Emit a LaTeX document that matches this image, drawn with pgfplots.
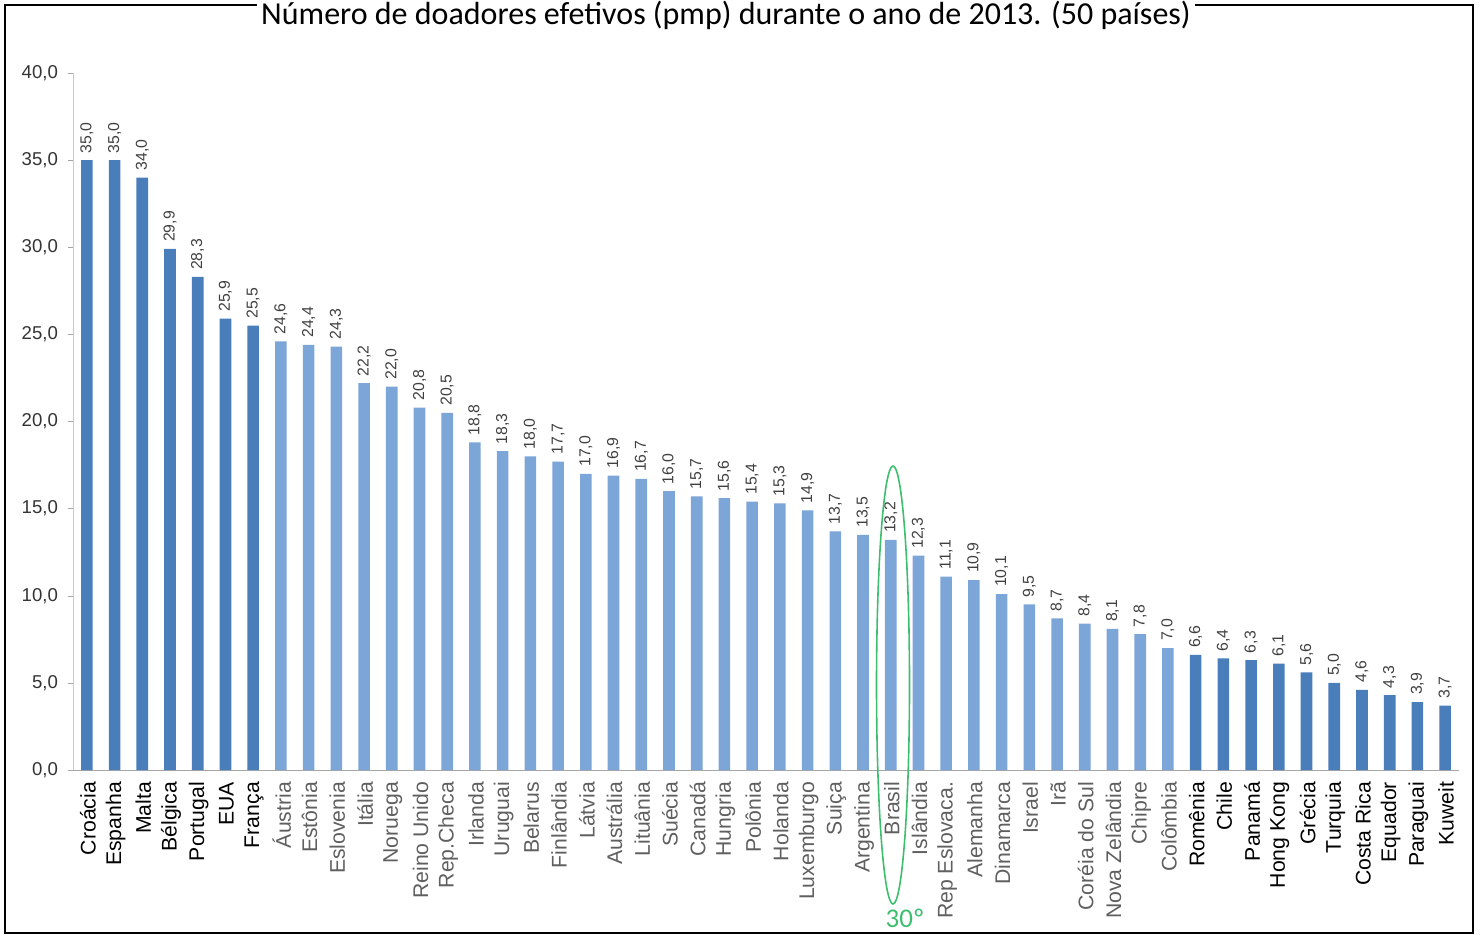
\documentclass[border=0pt]{standalone}
\usepackage{pgfplots}
\pgfplotsset{compat=1.18}
\usepackage{fontspec}
\setmainfont{Liberation Sans}
\newfontfamily\calibri{Carlito}
\definecolor{barDark}{HTML}{4A7EBB}
\definecolor{barLight}{HTML}{7CA5D8}
\definecolor{lblGray}{HTML}{5F5F5F}
\definecolor{axGray}{HTML}{A6A6A6}
\definecolor{ringGreen}{HTML}{3DBE6E}

\begin{document}
\begin{tikzpicture}
\begin{axis}[
  scale only axis, width=693pt, height=348.5pt,
  ybar, bar shift=0pt, bar width=5.8pt,
  xmin=-0.5, xmax=49.5, ymin=0, ymax=40,
  axis lines*=left,
  x axis line style={draw=axGray},
  y axis line style={draw=axGray!60},
  tick align=outside,
  ytick={0,5,...,40},
  major tick length=2.5pt,
  ytick style={draw=axGray},
  yticklabel style={/pgf/number format/.cd, fixed, fixed zerofill, precision=1, use comma, assume math mode=true,
    /tikz/.cd, font=\fontsize{9.3}{10}\selectfont, text=black!80, xshift=-1.5pt},
  xtick={0,...,49},
  xtick style={draw=none},
  minor xtick={-0.5,0.5,...,49.5},
  minor tick length=3pt,
  minor tick style={draw=axGray},
  xticklabel style={rotate=90, anchor=east, font=\fontsize{10.6}{12}\selectfont, text=black, yshift=-0.5pt},
  xticklabels={Croácia, Espanha, Malta, Bélgica, Portugal, EUA, França,
    \textcolor{lblGray}{Áustria}, \textcolor{lblGray}{Estônia}, \textcolor{lblGray}{Eslovenia},
    \textcolor{lblGray}{Itália}, \textcolor{lblGray}{Noruega}, \textcolor{lblGray}{Reino Unido},
    \textcolor{lblGray}{Rep.Checa}, \textcolor{lblGray}{Irlanda}, \textcolor{lblGray}{Uruguai},
    \textcolor{lblGray}{Belarus}, \textcolor{lblGray}{Finlândia}, \textcolor{lblGray}{Látvia},
    \textcolor{lblGray}{Austrália}, \textcolor{lblGray}{Lituânia}, \textcolor{lblGray}{Suécia},
    \textcolor{lblGray}{Canadá}, \textcolor{lblGray}{Hungria}, \textcolor{lblGray}{Polônia},
    \textcolor{lblGray}{Holanda}, \textcolor{lblGray}{Luxemburgo}, \textcolor{lblGray}{Suiça},
    \textcolor{lblGray}{Argentina}, \textcolor{lblGray}{Brasil}, \textcolor{lblGray}{Islândia},
    \textcolor{lblGray}{Rep Eslovaca.}, \textcolor{lblGray}{Alemanha}, \textcolor{lblGray}{Dinamarca},
    \textcolor{lblGray}{Israel}, \textcolor{lblGray}{Irã}, \textcolor{lblGray}{Coréia do Sul},
    \textcolor{lblGray}{Nova Zelândia}, \textcolor{lblGray}{Chipre}, \textcolor{lblGray}{Colômbia},
    Romênia, Chile, Panamá, Hong Kong, Grécia, Turquia, Costa Rica, Equador, Paraguai, Kuweit},
  nodes near coords={\pgfmathprintnumber[fixed, fixed zerofill, precision=1, use comma, assume math mode=true]{\pgfplotspointmeta}},
  every node near coord/.append style={rotate=90, anchor=west, font=\fontsize{7.9}{9}\selectfont, text=black!75},
  clip=false,
]
% darker group
\addplot[fill=barDark, draw=none] coordinates {
  (0,35.0) (1,35.0) (2,34.0) (3,29.9) (4,28.3) (5,25.9) (6,25.5)
  (40,6.6) (41,6.4) (42,6.3) (43,6.1) (44,5.6) (45,5.0) (46,4.6) (47,4.3) (48,3.9) (49,3.7)
};
% lighter group
\addplot[fill=barLight, draw=none] coordinates {
  (7,24.6) (8,24.4) (9,24.3) (10,22.2) (11,22.0) (12,20.8) (13,20.5) (14,18.8)
  (15,18.3) (16,18.0) (17,17.7) (18,17.0) (19,16.9) (20,16.7) (21,16.0) (22,15.7)
  (23,15.6) (24,15.4) (25,15.3) (26,14.9) (27,13.7) (28,13.5) (29,13.2) (30,12.3)
  (31,11.1) (32,10.9) (33,10.1) (34,9.5) (35,8.7) (36,8.4) (37,8.1) (38,7.8) (39,7.0)
};
\end{axis}
% Brasil highlight
\draw[ringGreen, line width=0.8pt] (410pt,42.5pt) ellipse [x radius=8.25pt, y radius=109.5pt];
\node[text=ringGreen, font=\calibri\fontsize{13.5}{14}\selectfont] at (416pt,-74pt) {30º};
% frame and title
\draw[line width=1.2pt] (-34pt,-81.5pt) rectangle (700pt,382.5pt);
\node[fill=white, anchor=base, inner xsep=2pt, inner ysep=0.5pt, font=\calibri\fontsize{16}{18}\selectfont] at (326.5pt,372.5pt)
  {Número de doadores efetivos (pmp) durante o ano de 2013. (50 países)};
\pgfresetboundingbox
\useasboundingbox (-36.5pt,-82.5pt) rectangle (704pt,385pt);
\end{tikzpicture}
\end{document}
